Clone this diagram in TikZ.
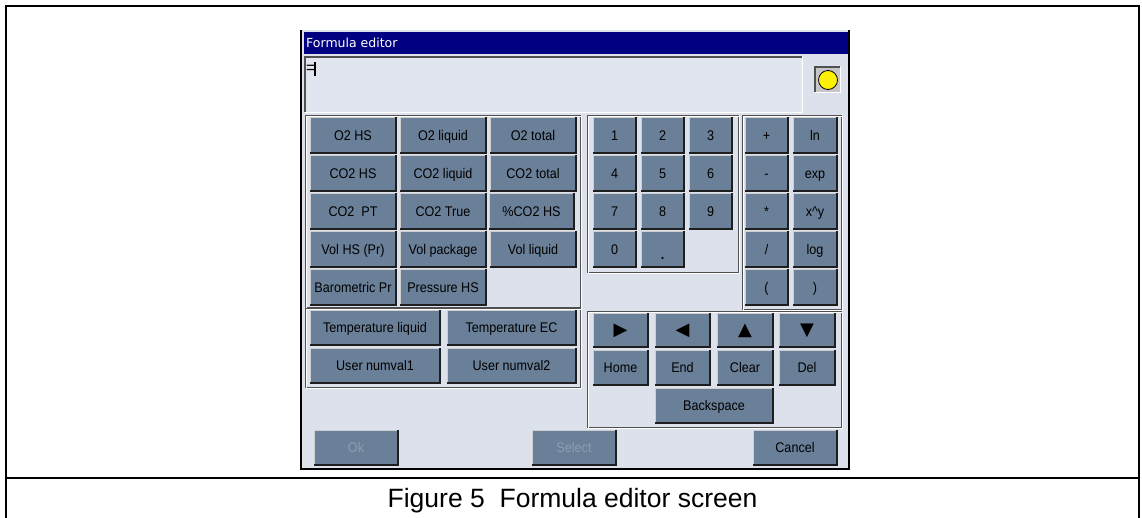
\documentclass[tikz,border=0pt]{standalone}
\usepackage{fontspec}
\newfontfamily\uifont[FakeStretch=0.9]{Liberation Sans}
\newfontfamily\capfont{Liberation Sans}
\newfontfamily\dejavu{DejaVu Sans}
\definecolor{winbg}{HTML}{DDE1EC}
\definecolor{fieldbg}{HTML}{E1E5EF}
\definecolor{face}{HTML}{6A7F98}
\definecolor{btnlight}{HTML}{CFCFCF}
\definecolor{btndark}{HTML}{1E1E1E}
\definecolor{frdark}{HTML}{505050}
\definecolor{navy}{HTML}{000080}
\definecolor{dis}{HTML}{8E9DB2}
\newcommand\B[6]{\node[btn, minimum width={#4pt-#2pt}, minimum height={#5pt-#3pt}] (#1) at ({(#2+#4)/2},{(#3+#5)/2}) {#6};}
\newcommand\Fr[4]{\draw[frdark,line width=1pt] (#1,#2) rectangle (#3,#4);
  \draw[white,line width=1pt] (#1+1,#2+1) rectangle (#3+1,#4+1);}
\tikzset{
  btn/.style={fill=face, draw=btndark, line width=1pt, inner sep=0pt, text=black,
    text height=12pt, text depth=2pt,
    font=\uifont\fontsize{14}{14}\selectfont},
}
\begin{document}
\begin{tikzpicture}[x=1pt,y=-1pt]
\useasboundingbox (0,0) rectangle (1142,517);
\fill[white] (0,0) rectangle (1142,517);
% outer frame
\draw[line width=2pt] (6,6) rectangle (1139,530);
\draw[line width=2pt] (6,478) -- (1139,478);
\node[font=\capfont\fontsize{26.5}{26.5}\selectfont, anchor=base] (cap) at (572.5,507) {Figure 5\ \ Formula editor screen};
% window
\fill[winbg] (301,30) rectangle (849,469);
\draw[line width=1.2pt] (301,30) -- (301,469) -- (849,469) -- (849,30);
\fill[navy] (304,32) rectangle (848,54);
\node[font=\dejavu\fontsize{12.5}{12.5}\selectfont, text=white, anchor=west, inner sep=0pt] (title) at (306,43) {Formula editor};
% formula field
\fill[fieldbg] (305,57) rectangle (802,112);
\draw[white,line width=1pt] (305,112) -- (802,112) -- (802,57);
\draw[frdark,line width=1.2pt] (305,112) -- (305,57) -- (802,57);
\node[font=\uifont\fontsize{17}{17}\selectfont, inner sep=0pt, anchor=west] (eq) at (306,69) {=};
\draw[line width=1.6pt] (315,62) -- (315,76);
% indicator
\fill[gray!45] (815,67) rectangle (840,92);
\draw[white,line width=1pt] (815,92) -- (840,92) -- (840,67);
\draw[frdark,line width=1.2pt] (815,92) -- (815,67) -- (840,67);
\node[circle, fill=yellow, draw=black, line width=0.8pt, minimum size=19pt, inner sep=0pt] (led) at (828,80) {};
% frames
\Fr{305}{115}{580}{307}
\Fr{305}{308}{580}{387}
\Fr{587}{115}{738}{272}
\Fr{742}{115}{841}{309}
\Fr{587}{311}{841}{427}
% left grid
\B{a1}{310}{117}{396}{153}{O2 HS}
\B{a2}{400}{117}{486}{153}{O2 liquid}
\B{a3}{490}{117}{576}{153}{O2 total}
\B{b1}{310}{155}{396}{191}{CO2 HS}
\B{b2}{400}{155}{486}{191}{CO2 liquid}
\B{b3}{490}{155}{576}{191}{CO2 total}
\B{c1}{310}{193}{396}{229}{CO2\ \ PT}
\B{c2}{400}{193}{486}{229}{CO2 True}
\B{c3}{489}{193}{574}{229}{\%CO2 HS}
\B{d1}{310}{231}{396}{267}{Vol HS (Pr)}
\B{d2}{400}{231}{486}{267}{Vol package}
\B{d3}{490}{231}{576}{267}{Vol liquid}
\B{e1}{310}{269}{396}{305}{Barometric Pr}
\B{e2}{400}{269}{486}{305}{Pressure HS}
\B{t1}{310}{310}{440}{345}{Temperature liquid}
\B{t2}{447}{310}{576}{345}{Temperature EC}
\B{u1}{310}{348}{440}{383}{User numval1}
\B{u2}{447}{348}{576}{383}{User numval2}
% numpad
\B{n1}{593}{117}{636}{153}{1}
\B{n2}{641}{117}{684}{153}{2}
\B{n3}{689}{117}{732}{153}{3}
\B{n4}{593}{155}{636}{191}{4}
\B{n5}{641}{155}{684}{191}{5}
\B{n6}{689}{155}{732}{191}{6}
\B{n7}{593}{193}{636}{229}{7}
\B{n8}{641}{193}{684}{229}{8}
\B{n9}{689}{193}{732}{229}{9}
\B{n0}{593}{231}{636}{267}{0}
\B{nd}{641}{231}{684}{267}{\raisebox{-5pt}{\textbf{.}}}
% operators
\B{o1}{745}{117}{788}{153}{+}
\B{o2}{793}{117}{837}{153}{ln}
\B{o3}{745}{155}{788}{191}{-}
\B{o4}{793}{155}{837}{191}{exp}
\B{o5}{745}{193}{788}{229}{*}
\B{o6}{793}{193}{837}{229}{x\textasciicircum y}
\B{o7}{745}{231}{788}{267}{/}
\B{o8}{793}{231}{837}{267}{log}
\B{o9}{745}{269}{788}{305}{(}
\B{o10}{793}{269}{837}{305}{)}
% arrows
\B{r1}{593}{313}{648}{347}{{\dejavu\fontsize{18}{18}\selectfont ▶}}
\B{r2}{655}{313}{710}{347}{{\dejavu\fontsize{18}{18}\selectfont ◀}}
\B{r3}{717}{313}{773}{347}{{\dejavu\fontsize{18}{18}\selectfont ▲}}
\B{r4}{779}{313}{835}{347}{{\dejavu\fontsize{18}{18}\selectfont ▼}}
\B{h1}{593}{350}{648}{385}{Home}
\B{h2}{655}{350}{710}{385}{End}
\B{h3}{717}{350}{773}{385}{Clear}
\B{h4}{779}{350}{835}{385}{Del}
\B{bs}{655}{388}{773}{423}{Backspace}
% bottom
\B{ok}{314}{430}{398}{465}{\textcolor{dis}{Ok}}
\B{sel}{532}{430}{616}{465}{\textcolor{dis}{Select}}
\B{can}{753}{430}{837}{465}{Cancel}
% 3D edges
\foreach \n in {a1,a2,a3,b1,b2,b3,c1,c2,c3,d1,d2,d3,e1,e2,t1,t2,u1,u2,n1,n2,n3,n4,n5,n6,n7,n8,n9,n0,nd,o1,o2,o3,o4,o5,o6,o7,o8,o9,o10,r1,r2,r3,r4,h1,h2,h3,h4,bs,ok,sel,can}{
  \draw[btndark,line width=1.4pt] ([shift={(1.2pt,1.2pt)}]\n.south west) -| ([shift={(-1.2pt,-1.2pt)}]\n.north east);
  \draw[btnlight,line width=1.4pt] ([shift={(1.2pt,1.2pt)}]\n.south west) |- ([shift={(-1.2pt,-1.2pt)}]\n.north east);
}
\end{tikzpicture}
\end{document}
